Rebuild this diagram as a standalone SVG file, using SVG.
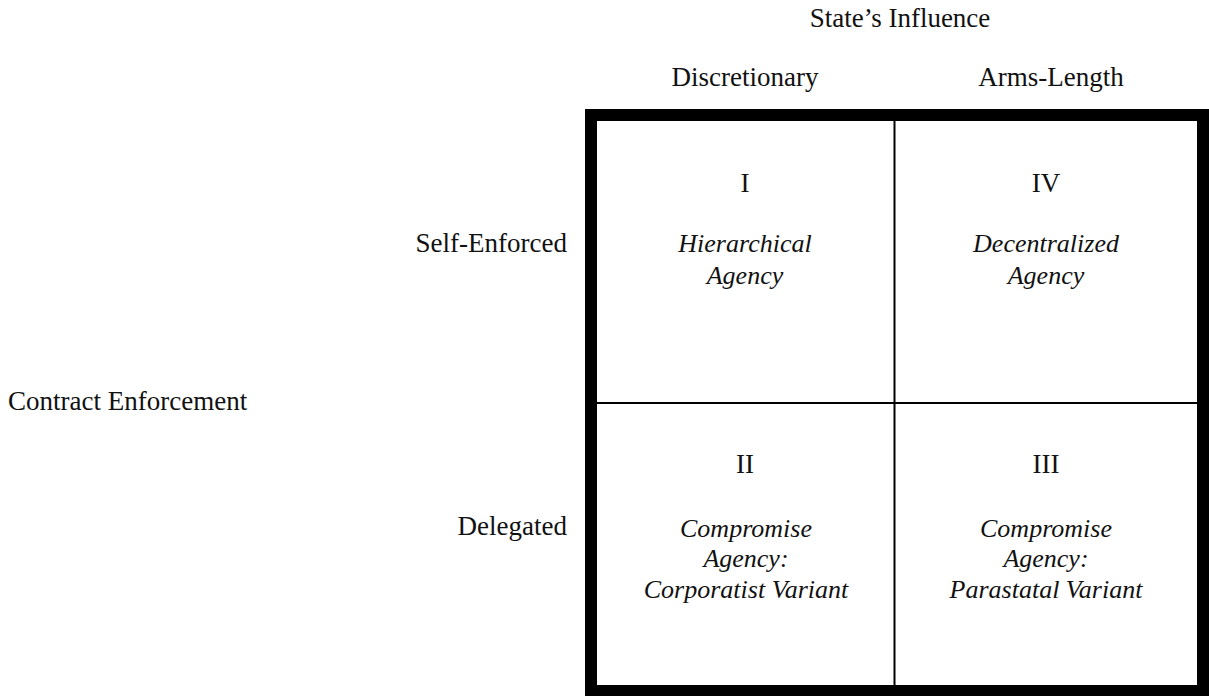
<svg xmlns="http://www.w3.org/2000/svg" width="1209" height="696" viewBox="0 0 1209 696">
<style>
.r{font-family:"Liberation Serif","Times New Roman",serif;font-size:27px;fill:#111}
.i{font-family:"Liberation Serif","Times New Roman",serif;font-size:26px;font-style:italic;fill:#111}
.m{text-anchor:middle}
.e{text-anchor:end}
.frame{fill:none;stroke:#000;stroke-width:12}
.div{stroke:#000;stroke-width:2}
</style>
<rect width="1209" height="696" fill="#fff"/>
<g id="axis-labels">
<text class="r m" x="900" y="27">State’s Influence</text>
<text class="r m" x="745" y="86">Discretionary</text>
<text class="r m" x="1051" y="86">Arms-Length</text>
<text class="r e" x="567" y="252">Self-Enforced</text>
<text class="r" x="8" y="410">Contract Enforcement</text>
<text class="r e" x="567" y="535">Delegated</text>
</g>
<g id="grid">
<rect class="frame" x="591" y="115" width="612" height="576"/>
<line class="div" x1="894.5" y1="121" x2="894.5" y2="686"/>
<line class="div" x1="597" y1="403" x2="1197" y2="403"/>
</g>
<g id="cell-I">
<text class="r m" x="745" y="192">I</text>
<text class="i m" x="745" y="252">Hierarchical</text>
<text class="i m" x="745" y="284">Agency</text>
</g>
<g id="cell-IV">
<text class="r m" x="1046" y="192">IV</text>
<text class="i m" x="1046" y="252">Decentralized</text>
<text class="i m" x="1046" y="284">Agency</text>
</g>
<g id="cell-II">
<text class="r m" x="745" y="473">II</text>
<text class="i m" x="746" y="537">Compromise</text>
<text class="i m" x="746" y="567">Agency:</text>
<text class="i m" x="746" y="598">Corporatist Variant</text>
</g>
<g id="cell-III">
<text class="r m" x="1046" y="473">III</text>
<text class="i m" x="1046" y="537">Compromise</text>
<text class="i m" x="1046" y="567">Agency:</text>
<text class="i m" x="1046" y="598">Parastatal Variant</text>
</g>
<g id="connectors"></g>
</svg>
